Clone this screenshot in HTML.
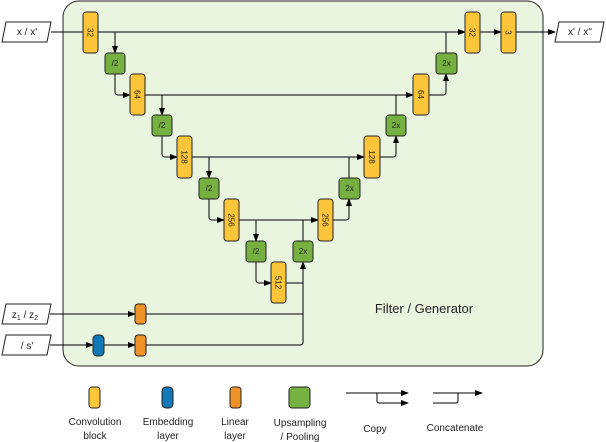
<!DOCTYPE html>
<html><head><meta charset="utf-8"><style>
html,body{margin:0;padding:0;background:#fff}
svg{display:block;font-family:"Liberation Sans",sans-serif}
</style></head><body>
<svg width="606" height="442" viewBox="0 0 606 442" xmlns="http://www.w3.org/2000/svg">
<defs><marker id="ar" markerWidth="8" markerHeight="6" refX="7" refY="3" orient="auto" markerUnits="userSpaceOnUse"><path d="M0,0 L8,3 L0,6 z" fill="#000"/></marker></defs>
<rect x="63" y="1" width="480" height="365" rx="16" fill="#eaf5e0" stroke="#222" stroke-width="1"/>
<text x="424" y="313" font-size="13" text-anchor="middle" fill="#222">Filter / Generator</text>
<g fill="none" stroke="#000" stroke-width="1">
<!-- skip connections -->
<path d="M51,32 H83"/>
<path d="M98,32 H465" marker-end="url(#ar)"/>
<path d="M145,95 H413" marker-end="url(#ar)"/>
<path d="M192,157 H364" marker-end="url(#ar)"/>
<path d="M239,220 H318" marker-end="url(#ar)"/>
<!-- down path -->
<path d="M115,32 V53" marker-end="url(#ar)"/>
<path d="M115,74 V92 Q115,95 118,95 H130" marker-end="url(#ar)"/>
<path d="M162,95 V115" marker-end="url(#ar)"/>
<path d="M162,136 V154 Q162,157 165,157 H177" marker-end="url(#ar)"/>
<path d="M209,157 V178" marker-end="url(#ar)"/>
<path d="M209,199 V217 Q209,220 212,220 H224" marker-end="url(#ar)"/>
<path d="M256,220 V241" marker-end="url(#ar)"/>
<path d="M256,262 V280 Q256,283 259,283 H271" marker-end="url(#ar)"/>
<!-- up path -->
<path d="M286,283 H303 V262" marker-end="url(#ar)"/>
<path d="M303,241 V220"/>
<path d="M333,220 H346 Q349,220 349,217 V199" marker-end="url(#ar)"/>
<path d="M349,178 V157"/>
<path d="M380,157 H393 Q396,157 396,154 V136" marker-end="url(#ar)"/>
<path d="M396,115 V95"/>
<path d="M429,95 H443 Q446,95 446,92 V74" marker-end="url(#ar)"/>
<path d="M446,53 V32"/>
<path d="M480,32 H501" marker-end="url(#ar)"/>
<path d="M516,32 H555" marker-end="url(#ar)"/>
<!-- conditioning -->
<path d="M50,314 H135" marker-end="url(#ar)"/>
<path d="M146,314 H303"/>
<path d="M50,345 H93" marker-end="url(#ar)"/>
<path d="M104,345 H135" marker-end="url(#ar)"/>
<path d="M146,345 H300 Q303,345 303,342 V283"/>
</g>
<!-- conv blocks -->
<g stroke="#222" stroke-width="1" fill="#fdc53a">
<rect x="83" y="12" width="15" height="41" rx="3"/>
<rect x="130" y="74" width="15" height="41" rx="3"/>
<rect x="177" y="136" width="15" height="42" rx="3"/>
<rect x="224" y="199" width="15" height="42" rx="3"/>
<rect x="271" y="262" width="15" height="41" rx="3"/>
<rect x="318" y="199" width="15" height="42" rx="3"/>
<rect x="364" y="136" width="16" height="42" rx="3"/>
<rect x="413" y="74" width="16" height="41" rx="3"/>
<rect x="465" y="12" width="15" height="41" rx="3"/>
<rect x="501" y="12" width="15" height="41" rx="3"/>
</g>
<g font-size="8" fill="#222" text-anchor="middle">
<text transform="translate(90.5,32.5) rotate(90)" dy="3">32</text>
<text transform="translate(137.5,94.5) rotate(90)" dy="3">64</text>
<text transform="translate(184.5,157) rotate(90)" dy="3">128</text>
<text transform="translate(231.5,220) rotate(90)" dy="3">256</text>
<text transform="translate(278.5,282.5) rotate(90)" dy="3">512</text>
<text transform="translate(325.5,220) rotate(90)" dy="3">256</text>
<text transform="translate(372,157) rotate(90)" dy="3">128</text>
<text transform="translate(421,94.5) rotate(90)" dy="3">64</text>
<text transform="translate(472.5,32.5) rotate(90)" dy="3">32</text>
<text transform="translate(508.5,32.5) rotate(90)" dy="3">3</text>
</g>
<!-- pool / upsample -->
<g stroke="#222" stroke-width="1" fill="#76b041">
<rect x="105" y="53" width="20" height="21" rx="3"/>
<rect x="152" y="115" width="20" height="21" rx="3"/>
<rect x="199" y="178" width="20" height="21" rx="3"/>
<rect x="246" y="241" width="20" height="21" rx="3"/>
<rect x="293" y="241" width="20" height="21" rx="3"/>
<rect x="339" y="178" width="21" height="21" rx="3"/>
<rect x="386" y="115" width="20" height="21" rx="3"/>
<rect x="436" y="53" width="21" height="21" rx="3"/>
</g>
<g font-size="8" fill="#222" text-anchor="middle">
<text x="115" y="66">/2</text><text x="162" y="128">/2</text><text x="209" y="191">/2</text><text x="256" y="254">/2</text>
<text x="303" y="254">2x</text><text x="349.5" y="191">2x</text><text x="396" y="128">2x</text><text x="446.5" y="66">2x</text>
</g>
<!-- conditioning blocks -->
<rect x="135" y="304" width="11" height="20" rx="3" fill="#ef9328" stroke="#222"/>
<rect x="135" y="335" width="11" height="21" rx="3" fill="#ef9328" stroke="#222"/>
<rect x="93" y="335" width="11" height="21" rx="4" fill="#1278b8" stroke="#222"/>
<!-- io boxes -->
<g stroke="#222" fill="#fff">
<path d="M6,22 H51 L47,42 H2 Z"/>
<path d="M6,304 H51 L47,324 H2 Z"/>
<path d="M6,335 H51 L47,355 H2 Z"/>
<path d="M559,22 H604 L600,42 H555 Z"/>
</g>
<g font-size="10" fill="#222" text-anchor="middle">
<text x="27" y="35">x / x'</text>
<text x="25" y="318">z<tspan font-size="7" dy="2">1</tspan><tspan dy="-2"> / z</tspan><tspan font-size="7" dy="2">2</tspan></text>
<text x="27" y="349">/ s'</text>
<text x="580" y="35">x' / x''</text>
</g>
<!-- legend -->
<g>
<rect x="89" y="387" width="11" height="21" rx="3" fill="#fdc53a" stroke="#222"/>
<rect x="162" y="387" width="11" height="21" rx="4" fill="#1278b8" stroke="#222"/>
<rect x="230" y="387" width="11" height="21" rx="3" fill="#ef9328" stroke="#222"/>
<rect x="289" y="387" width="21" height="21" rx="3" fill="#76b041" stroke="#222"/>
<g fill="none" stroke="#000">
<path d="M346,393 H408" marker-end="url(#ar)"/>
<path d="M377,393 V401 Q377,403 379,403 H408" marker-end="url(#ar)"/>
<path d="M433,393 H482" marker-end="url(#ar)"/>
<path d="M433,403 H456 Q458,403 458,401 V393"/>
</g>
<g font-size="10" fill="#222" text-anchor="middle">
<text x="95" y="425">Convolution</text><text x="95" y="439">block</text>
<text x="168" y="425">Embedding</text><text x="168" y="439">layer</text>
<text x="235" y="425">Linear</text><text x="235" y="439">layer</text>
<text x="300" y="426">Upsampling</text><text x="300" y="440">/ Pooling</text>
<text x="375" y="432">Copy</text>
<text x="455" y="431">Concatenate</text>
</g>
</g>
</svg>
</body></html>
